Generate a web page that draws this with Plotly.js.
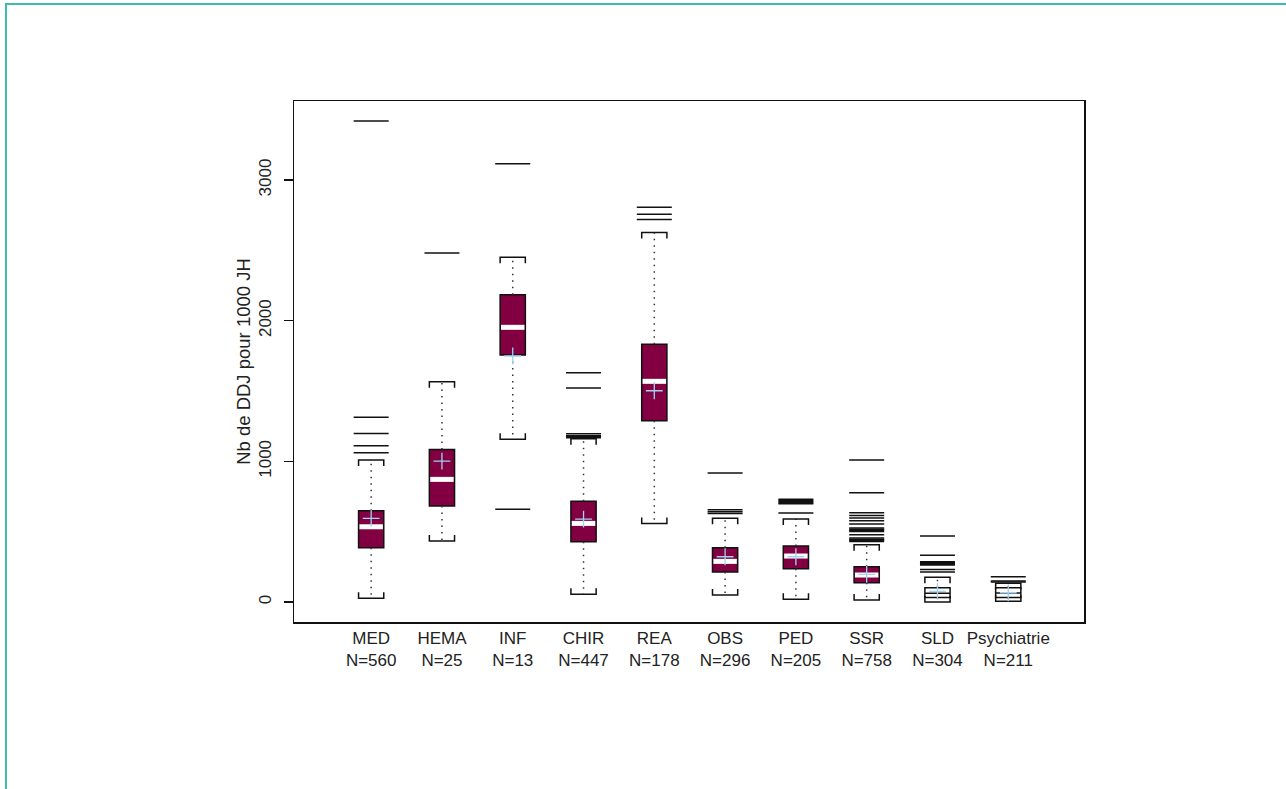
<!DOCTYPE html>
<html>
<head>
<meta charset="utf-8">
<script src="https://cdn.plot.ly/plotly-3.0.1.min.js"></script>
<style>
  html, body { margin: 0; padding: 0; background: #fff; overflow: hidden; }
  #chart { width: 1286px; height: 789px; }
  #frame { position: absolute; left: 5px; top: 3px; width: 1400px; height: 900px;
           border-top: 2px solid #3dbcac; border-left: 2px solid #3dbcac; pointer-events: none; }
</style>
</head>
<body>
<div id="chart"></div>
<div id="frame"></div>
<script>
// ---- data ----
const categories = ['MED', 'HEMA', 'INF', 'CHIR', 'REA', 'OBS', 'PED', 'SSR', 'SLD', 'Psychiatrie'];
const counts     = [560, 25, 13, 447, 178, 296, 205, 758, 304, 211];
const q1Values     = [386, 682, 1756, 429, 1289, 213, 237, 137, 33, 33];
const medianValues = [535, 872, 1953, 559, 1569, 289, 327, 192, 62, 64];
const q3Values     = [649, 1085, 2185, 716, 1832, 386, 398, 251, 102, 102];
const meanValues   = [595, 1002, 1749, 590, 1502, 322, 322, 197, 76, 66];
const lowerWhisker = [26, 434, 1157, 55, 559, 50, 19, 14, 0, 5];
const upperWhisker = [1009, 1566, 2452, 1160, 2628, 595, 590, 407, 176, 133];
const outliers = [
  [3419, 1313, 1199, 1111, 1062],
  [2481],
  [3116, 659],
  [1630, 1521, 1197, 1183, 1175, 1168],
  [2806, 2756, 2720],
  [917, 656, 642, 630],
  [730, 722, 714, 706, 698, 633],
  [1009, 777, 635, 616, 597, 578, 554, 526, 518, 510, 502, 478, 455, 447, 439, 431],
  [469, 332, 286, 280, 274, 268, 263, 232, 214],
  [180, 150, 143]
];
const yTicks = [0, 1000, 2000, 3000];
const yTitle = 'Nb de DDJ pour 1000 JH';
const openBoxCategories = ['SLD', 'Psychiatrie'];

// ---- styling / geometry ----
const W = 1286, H = 789;
const margin = {l: 294, r: 202, t: 101, b: 167, pad: 0};
const yRange = [-142, 3562];
const xRange = [-1.09, 10.07];
const halfW = 0.178;
const plotHpx = H - margin.t - margin.b;
const capDepth = 6 * (yRange[1] - yRange[0]) / plotHpx;
const maroon = '#820041';

const idx = categories.map((c, i) => i);
const filled = idx.filter(i => !openBoxCategories.includes(categories[i]));
const open = idx.filter(i => openBoxCategories.includes(categories[i]));
const pick = (arr, ids) => ids.map(i => arr[i]);

function boxTrace(ids, fill) {
  return {
    type: 'box', x: ids, q1: pick(q1Values, ids), median: pick(medianValues, ids),
    q3: pick(q3Values, ids), lowerfence: pick(q1Values, ids), upperfence: pick(q3Values, ids),
    width: halfW * 2, fillcolor: fill, line: {color: '#111', width: 1.5},
    boxpoints: false, hoverinfo: 'skip', showlegend: false
  };
}

// whiskers (dotted)
const wx = [], wy = [];
idx.forEach(i => {
  wx.push(i, i, null, i, i, null);
  wy.push(q3Values[i], upperWhisker[i], null, q1Values[i], lowerWhisker[i], null);
});
// caps (brackets)
const cx = [], cy = [];
idx.forEach(i => {
  cx.push(i - halfW, i - halfW, i + halfW, i + halfW, null);
  cy.push(upperWhisker[i] - capDepth, upperWhisker[i], upperWhisker[i], upperWhisker[i] - capDepth, null);
  cx.push(i - halfW, i - halfW, i + halfW, i + halfW, null);
  cy.push(lowerWhisker[i] + capDepth, lowerWhisker[i], lowerWhisker[i], lowerWhisker[i] + capDepth, null);
});
// white medians for filled boxes
const mx = [], my = [];
filled.forEach(i => {
  mx.push(i - halfW + 0.012, i + halfW - 0.012, null);
  my.push(medianValues[i], medianValues[i], null);
});
// outliers
const ox = [], oy = [];
outliers.forEach((arr, i) => arr.forEach(v => { ox.push(i); oy.push(v); }));

const traces = [
  {type: 'scatter', mode: 'lines', x: wx, y: wy, line: {color: '#333', width: 1.5, dash: '1.5px,5px'},
   hoverinfo: 'skip', showlegend: false},
  {type: 'scatter', mode: 'lines', x: cx, y: cy, line: {color: '#111', width: 1.5},
   hoverinfo: 'skip', showlegend: false},
  boxTrace(filled, maroon),
  boxTrace(open, '#ffffff'),
  {type: 'scatter', mode: 'lines', x: mx, y: my, line: {color: '#ffffff', width: 5},
   hoverinfo: 'skip', showlegend: false},
  {type: 'scatter', mode: 'markers', x: ox, y: oy,
   marker: {symbol: 'line-ew', size: 25, line: {color: '#111', width: 1.5}},
   hoverinfo: 'skip', showlegend: false},
  {type: 'scatter', mode: 'markers', x: idx, y: meanValues,
   marker: {symbol: 'cross-thin', size: 12, line: {color: '#9fd2f5', width: 1.3}},
   hoverinfo: 'skip', showlegend: false}
];

const font = {family: 'Liberation Sans, Arial, sans-serif', size: 17, color: '#222'};
const layout = {
  width: W, height: H, margin: margin,
  paper_bgcolor: '#fff', plot_bgcolor: '#fff', font: font, showlegend: false,
  xaxis: {range: xRange, tickvals: idx, ticktext: categories.map((c, i) => c + '<br>N=' + counts[i]),
          tickangle: 0, ticks: '', showgrid: false, zeroline: false, showline: true, mirror: true,
          linecolor: '#111', linewidth: 1.5, tickfont: font},
  yaxis: {range: yRange, tickvals: yTicks, ticktext: yTicks.map(String), tickangle: -90,
          ticks: 'outside', ticklen: 9, tickwidth: 1.2, tickcolor: '#111', ticklabelstandoff: 6,
          showgrid: false, zeroline: false, showline: true, mirror: true,
          linecolor: '#111', linewidth: 1.5, tickfont: font,
          title: {text: yTitle, font: {family: font.family, size: 18.5, color: '#222'}, standoff: 0}}
};

Plotly.newPlot('chart', traces, layout, {staticPlot: true, displayModeBar: false});
</script>
</body>
</html>
